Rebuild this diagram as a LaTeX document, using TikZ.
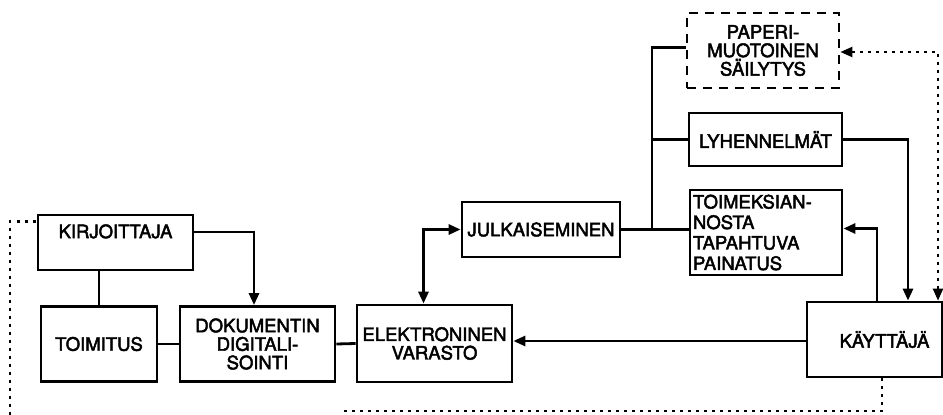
\documentclass[tikz,border=0pt]{standalone}
\usepackage{fontspec}
\setmainfont{TeX Gyre Heros}[FakeBold=2.5]
\usetikzlibrary{arrows.meta}
\begin{document}
\begin{tikzpicture}[x=1pt,y=-1pt,
  box/.style={draw,line width=2.8pt,align=center,inner sep=2pt,font=\fontsize{18.5}{18.5}\selectfont},
  dbox/.style={box,dash pattern=on 9pt off 7pt},
  conn/.style={line width=2.8pt},
  arr/.style={conn,-{Triangle[length=12pt,width=10pt]}},
  darr/.style={conn,{Triangle[length=12pt,width=10pt]}-{Triangle[length=12pt,width=10pt]}},
  dotline/.style={line width=2.2pt,dash pattern=on 3pt off 5pt},
]
\useasboundingbox (0,0) rectangle (943,415);
\node[box,minimum width=155pt,minimum height=55pt] (kir) at (115.5,242.5) {KIRJOITTAJA\\[4pt]\mbox{}};
\node[box,minimum width=116pt,minimum height=75pt] (toi) at (99,344) {TOIMITUS};
\node[box,minimum width=155pt,minimum height=75pt] (dok) at (257.5,344) {DOKUMENTIN\\DIGITALI-\\SOINTI};
\node[box,minimum width=155pt,minimum height=77pt] (ele) at (434.5,343.5) {ELEKTRONINEN\\VARASTO};
\node[box,minimum width=158pt,minimum height=55pt] (jul) at (541,229.5) {JULKAISEMINEN};
\node[dbox,minimum width=152pt,minimum height=75pt] (pap) at (763,50.5) {PAPERI-\\MUOTOINEN\\SÄILYTYS};
\node[box,minimum width=153pt,minimum height=53pt] (lyh) at (765.5,139.5) {LYHENNELMÄT};
\node[box,minimum width=152pt,minimum height=85pt,align=left,text width=146pt,inner sep=1pt,font=\fontsize{18.5}{20.5}\selectfont] (tmk) at (766,232.5) {TOIMEKSIAN-\\NOSTA\\TAPAHTUVA\\PAINATUS};
\node[box,minimum width=135pt,minimum height=75pt] (kay) at (874.5,339.5) {\hspace*{20pt}KÄYTTÄJÄ};

\coordinate (j) at (652,229);
\coordinate (b1) at (340,411);
\coordinate (l1) at (10,415);

% solid connectors
\draw[conn] (kir.south -| toi.north) -- (toi.north);
\draw[arr] ([yshift=10.5pt]kir.east) -| ([xshift=-3.5pt]dok.north);
\draw[conn] (toi.east) -- (dok.west);
\draw[conn] (dok.east) -- (ele.west);
\draw[darr] ([xshift=-11pt]ele.north) |- (jul.west);
\draw[conn] (jul.east) -- (jul.east -| tmk.west);
\draw[conn] (j) |- ([yshift=3pt]pap.west);
\draw[conn] (j |- lyh.west) -- (lyh.west);
\draw[arr] (lyh.east) -| ([xshift=33.5pt]kay.north);
\draw[arr] ([xshift=2.5pt]kay.north) |- ([yshift=4pt]tmk.east);
\draw[arr] ([yshift=-1.5pt]kay.west) -- ([yshift=-1.5pt]kay.west -| ele.east);

% dotted connectors
\draw[dotline,{Triangle[length=12pt,width=10pt]}-{Triangle[length=12pt,width=10pt]}] ([yshift=-1.5pt]pap.east) -| ([xshift=63.5pt]kay.north);
\draw[dotline] ([xshift=7.5pt]kay.south) |- (b1);
\draw[dotline] (l1) |- ([yshift=21pt]kir.west);
\end{tikzpicture}
\end{document}
